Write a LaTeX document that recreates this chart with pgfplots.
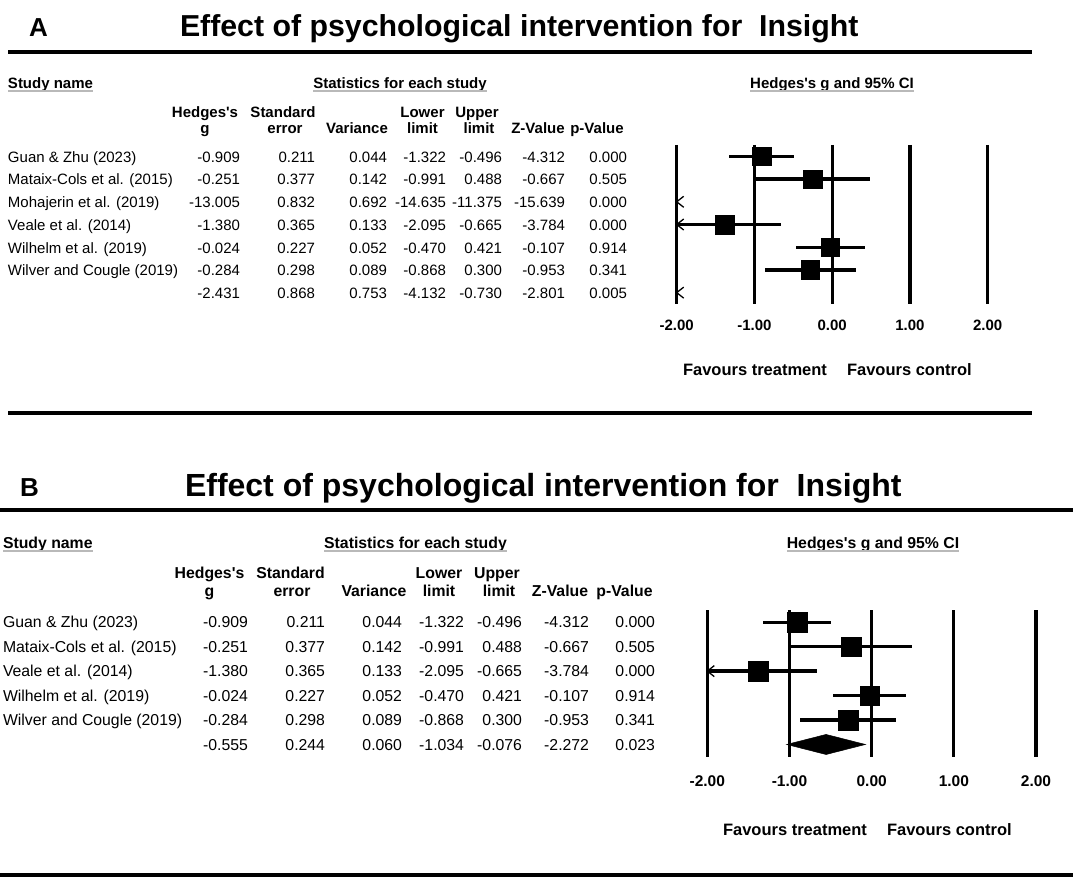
\documentclass[border=0pt]{standalone}
\usepackage{pgfplots}
\usepackage{pgfplotstable}
\pgfplotsset{compat=1.18}
\usepackage{fontspec}
\setmainfont{Liberation Sans}[Ligatures=TeXOff]
\pgfdeclareplotmark{chev}{%
  \pgfpathmoveto{\pgfqpoint{7pt}{5.5pt}}%
  \pgfpathlineto{\pgfqpoint{0pt}{0pt}}%
  \pgfpathlineto{\pgfqpoint{7pt}{-5.5pt}}%
  \pgfusepathqstroke}
% y = row index, g = Hedges's g, lo/hi = CI as drawn (clipped at -2)
\pgfplotstableread{
row g lo hi
1 -0.909 -1.322 -0.496
2 -0.251 -0.991 0.488
4 -1.380 -2.000 -0.665
5 -0.024 -0.470 0.421
6 -0.284 -0.868 0.300
}\studiesA
\pgfplotstableread{
row g lo hi
1 -0.909 -1.322 -0.496
2 -0.251 -0.991 0.488
3 -1.380 -2.000 -0.665
4 -0.024 -0.470 0.421
5 -0.284 -0.868 0.300
}\studiesB
\newcommand{\rowA}[9]{%
  \node[anchor=base west] at (8,#1) {#2};
  \node[anchor=base east] at (240,#1) {#3};
  \node[anchor=base east] at (315,#1) {#4};
  \node[anchor=base east] at (387,#1) {#5};
  \node[anchor=base east] at (446,#1) {#6};
  \node[anchor=base east] at (502,#1) {#7};
  \node[anchor=base east] at (565,#1) {#8};
  \node[anchor=base east] at (627,#1) {#9};}
\newcommand{\rowB}[9]{%
  \node[anchor=base west] at (3,#1) {#2};
  \node[anchor=base east] at (248,#1) {#3};
  \node[anchor=base east] at (325,#1) {#4};
  \node[anchor=base east] at (402,#1) {#5};
  \node[anchor=base east] at (464,#1) {#6};
  \node[anchor=base east] at (522,#1) {#7};
  \node[anchor=base east] at (589,#1) {#8};
  \node[anchor=base east] at (655,#1) {#9};}
\newcommand{\ul}[1]{\draw[gray!55, line width=2pt] ([yshift=-2.5pt]#1.base west) -- ([yshift=-2.5pt]#1.base east);}
\pgfplotsset{forest/.style={
  anchor=north west, scale only axis,
  xmin=-2, xmax=2, y dir=reverse,
  axis line style={draw=none}, ytick=\empty,
  xtick={-2,-1,0,1,2}, xticklabels={-2.00,-1.00,0.00,1.00,2.00},
  major tick length=0pt, xmajorgrids,
  major grid style={black, line width=3.3pt},
  clip=false}}
\begin{document}
\begin{tikzpicture}[x=1pt,y=-1pt, every node/.style={inner sep=0pt, outer sep=0pt}]
\useasboundingbox (0,0) rectangle (1073,877);
\coordinate (pA) at (676.7,145);
\coordinate (pB) at (707.3,610);
% ---------------- Panel A ----------------
\node[anchor=base west, font=\bfseries\fontsize{26}{30}\selectfont] at (29,36.7) {A};
\node[anchor=base west, font=\bfseries\fontsize{30.3}{34}\selectfont] at (180,36.7) {Effect of psychological intervention for \ Insight};
\draw[line width=4pt] (8,52) -- (1032,52);
\begin{scope}[font=\bfseries\fontsize{15}{18}\selectfont]
\node[anchor=base west] (sA) at (8,88.1) {Study name}; \ul{sA}
\node[anchor=base] (tA) at (400,88.1) {Statistics for each study}; \ul{tA}
\node[anchor=base] (hA) at (832,88.1) {Hedges's g and 95\% CI}; \ul{hA}
\node[anchor=base] at (205,117.1) {Hedges's};
\node[anchor=base] at (205,133.6) {g};
\node[anchor=base] at (283,117.1) {Standard};
\node[anchor=base] at (285,133.6) {error};
\node[anchor=base] at (357,133.6) {Variance};
\node[anchor=base] at (422.5,117.1) {Lower};
\node[anchor=base] at (422.5,133.6) {limit};
\node[anchor=base] at (477,117.1) {Upper};
\node[anchor=base] at (479,133.6) {limit};
\node[anchor=base] at (538,133.6) {Z-Value};
\node[anchor=base] at (597,133.6) {p-Value};
\end{scope}
\begin{scope}[font=\fontsize{15}{18}\selectfont]
\rowA{162.1}{Guan \& Zhu (2023)}{-0.909}{0.211}{0.044}{-1.322}{-0.496}{-4.312}{0.000}
\rowA{184.9}{Mataix-Cols et al. (2015)}{-0.251}{0.377}{0.142}{-0.991}{0.488}{-0.667}{0.505}
\rowA{207.6}{Mohajerin et al. (2019)}{-13.005}{0.832}{0.692}{-14.635}{-11.375}{-15.639}{0.000}
\rowA{230.4}{Veale et al. (2014)}{-1.380}{0.365}{0.133}{-2.095}{-0.665}{-3.784}{0.000}
\rowA{253.2}{Wilhelm et al. (2019)}{-0.024}{0.227}{0.052}{-0.470}{0.421}{-0.107}{0.914}
\rowA{276.0}{Wilver and Cougle (2019)}{-0.284}{0.298}{0.089}{-0.868}{0.300}{-0.953}{0.341}
\rowA{298.7}{}{-2.431}{0.868}{0.753}{-4.132}{-0.730}{-2.801}{0.005}
\end{scope}
\begin{axis}[forest, at={(pA)}, width=311pt, height=159pt, ymin=0.5, ymax=7.5,
  xticklabel style={font=\bfseries\fontsize{15}{17}\selectfont, anchor=base, yshift=-26.2pt}]
\addplot[only marks, mark=square*, mark size=9.3pt, mark options={line width=0.4pt},
  error bars/.cd, x dir=both, x explicit, error mark=none, error bar style={line width=3.3pt}]
  table[x=g, y=row, x error minus expr=\thisrow{g}-\thisrow{lo}, x error plus expr=\thisrow{hi}-\thisrow{g}] {\studiesA};
\addplot[only marks, mark=chev, mark options={line width=1.3pt}] coordinates {(-2,3) (-2,4) (-2,7)};
\end{axis}
\node[anchor=base west, font=\bfseries\fontsize{16.5}{19}\selectfont] at (683,375) {Favours treatment};
\node[anchor=base west, font=\bfseries\fontsize{16.5}{19}\selectfont] at (847,375) {Favours control};
\draw[line width=3.5pt] (8,413) -- (1032,413);
% ---------------- Panel B ----------------
\node[anchor=base west, font=\bfseries\fontsize{26}{30}\selectfont] at (20,496) {B};
\node[anchor=base west, font=\bfseries\fontsize{32}{36}\selectfont] at (185,496) {Effect of psychological intervention for \ Insight};
\draw[line width=4pt] (0,510) -- (1073,510);
\begin{scope}[font=\bfseries\fontsize{15.8}{19}\selectfont]
\node[anchor=base west] (sB) at (3,548.6) {Study name}; \ul{sB}
\node[anchor=base] (tB) at (415.5,548.6) {Statistics for each study}; \ul{tB}
\node[anchor=base] (hB) at (873,548.6) {Hedges's g and 95\% CI}; \ul{hB}
\node[anchor=base] at (209.5,578.6) {Hedges's};
\node[anchor=base] at (209.5,596) {g};
\node[anchor=base] at (290.5,578.6) {Standard};
\node[anchor=base] at (292,596) {error};
\node[anchor=base] at (374,596) {Variance};
\node[anchor=base] at (439,578.6) {Lower};
\node[anchor=base] at (439,596) {limit};
\node[anchor=base] at (497,578.6) {Upper};
\node[anchor=base] at (499,596) {limit};
\node[anchor=base] at (560,596) {Z-Value};
\node[anchor=base] at (624.5,596) {p-Value};
\end{scope}
\begin{scope}[font=\fontsize{15.8}{19}\selectfont]
\rowB{627.3}{Guan \& Zhu (2023)}{-0.909}{0.211}{0.044}{-1.322}{-0.496}{-4.312}{0.000}
\rowB{652.0}{Mataix-Cols et al. (2015)}{-0.251}{0.377}{0.142}{-0.991}{0.488}{-0.667}{0.505}
\rowB{676.6}{Veale et al. (2014)}{-1.380}{0.365}{0.133}{-2.095}{-0.665}{-3.784}{0.000}
\rowB{701.3}{Wilhelm et al. (2019)}{-0.024}{0.227}{0.052}{-0.470}{0.421}{-0.107}{0.914}
\rowB{725.9}{Wilver and Cougle (2019)}{-0.284}{0.298}{0.089}{-0.868}{0.300}{-0.953}{0.341}
\rowB{750.6}{}{-0.555}{0.244}{0.060}{-1.034}{-0.076}{-2.272}{0.023}
\end{scope}
\begin{axis}[forest, at={(pB)}, width=328.7pt, height=146.7pt, ymin=0.5, ymax=6.5,
  xticklabel style={font=\bfseries\fontsize{15.5}{17}\selectfont, anchor=base, yshift=-29.3pt}]
\addplot[only marks, mark=square*, mark size=9.8pt, mark options={line width=0.4pt},
  error bars/.cd, x dir=both, x explicit, error mark=none, error bar style={line width=3.3pt}]
  table[x=g, y=row, x error minus expr=\thisrow{g}-\thisrow{lo}, x error plus expr=\thisrow{hi}-\thisrow{g}] {\studiesB};
\addplot[only marks, mark=chev, mark options={line width=1.3pt}] coordinates {(-2,3)};
\addplot[fill=black, draw=black, line width=0.5pt] coordinates {(-1.034,6) (-0.555,5.59) (-0.076,6) (-0.555,6.41)} -- cycle;
\end{axis}
\node[anchor=base west, font=\bfseries\fontsize{16.5}{19}\selectfont] at (723,835.2) {Favours treatment};
\node[anchor=base west, font=\bfseries\fontsize{16.5}{19}\selectfont] at (887,835.2) {Favours control};
\draw[line width=4pt] (0,875) -- (1073,875);
\end{tikzpicture}
\end{document}
